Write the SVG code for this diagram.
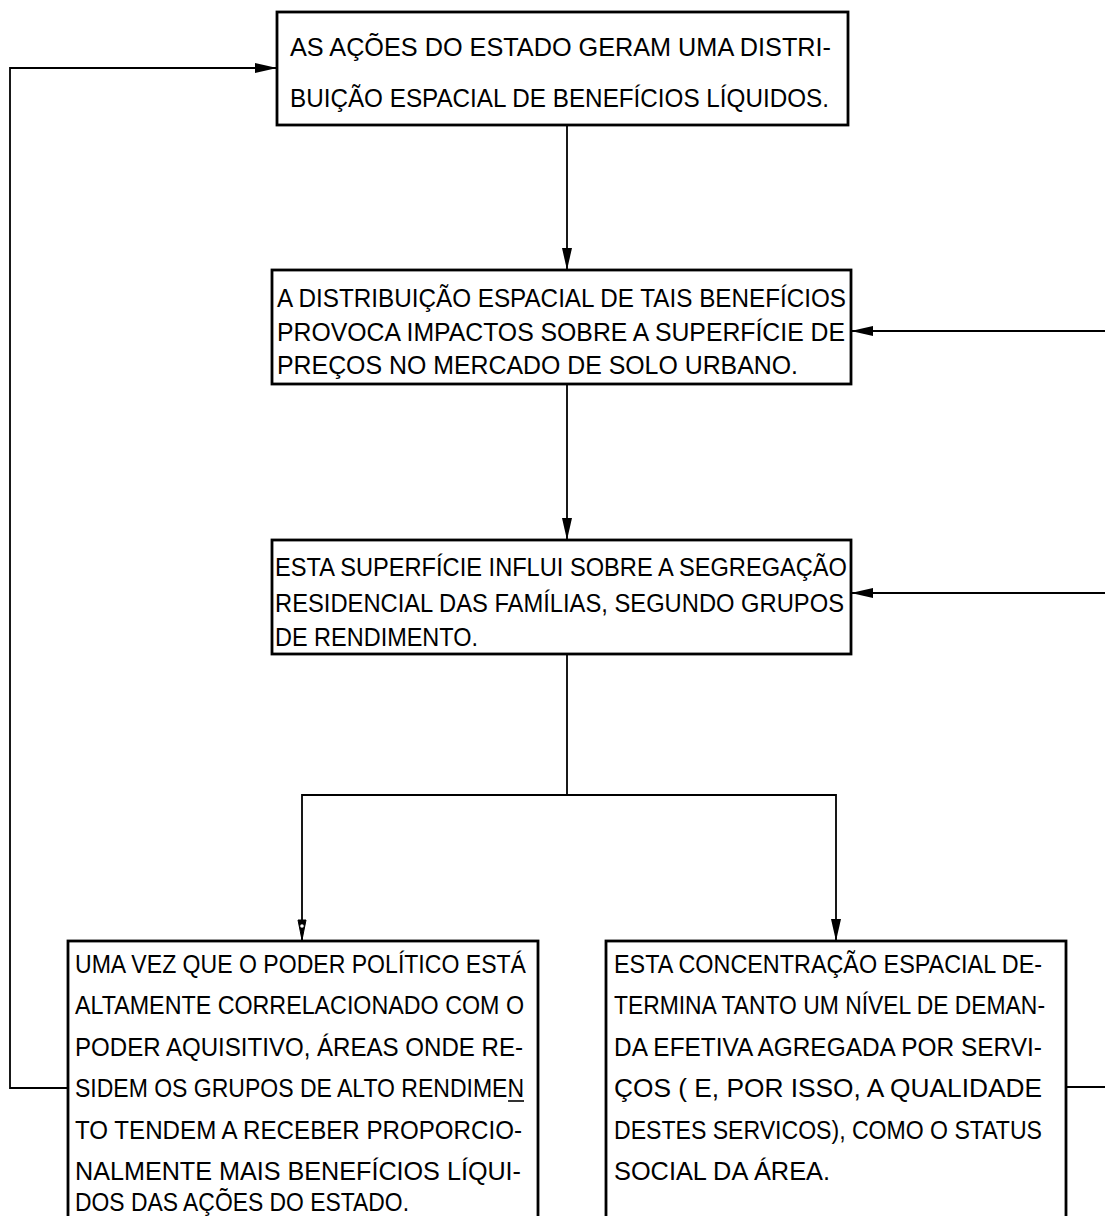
<svg xmlns="http://www.w3.org/2000/svg" width="1105" height="1216" viewBox="0 0 1105 1216">
<style>
.box{fill:#fff;stroke:#000;stroke-width:2.8}
.t{font-family:"Liberation Sans","DejaVu Sans",sans-serif;font-size:25px;fill:#000}
.c{fill:none;stroke:#000;stroke-width:1.8}
</style>
<defs>
<marker id="ah" viewBox="0 0 22 10" refX="22" refY="5" markerWidth="22" markerHeight="10" markerUnits="userSpaceOnUse" orient="auto">
<path d="M0,0 L22,5 L0,10 Z" fill="#000"/>
</marker>
<marker id="ah2" viewBox="0 0 22 10" refX="22" refY="5" markerWidth="22" markerHeight="10" markerUnits="userSpaceOnUse" orient="auto">
<path d="M1,1 L21,5 L1,9 Z" fill="#000" stroke="#000" stroke-width="1"/>
<circle cx="7" cy="5" r="1.8" fill="#fff"/>
</marker>
</defs>
<rect width="1105" height="1216" fill="#fff"/>
<g id="connectors">
<path class="c" d="M68,1088 H10 V68 H277" marker-end="url(#ah)"/>
<path class="c" d="M567,125 V270" marker-end="url(#ah)"/>
<path class="c" d="M1105,331 H851" marker-end="url(#ah)"/>
<path class="c" d="M567,384 V540" marker-end="url(#ah)"/>
<path class="c" d="M1105,593 H851" marker-end="url(#ah)"/>
<path class="c" d="M567,654 V795"/>
<path class="c" d="M567,795 H302 V941" marker-end="url(#ah2)"/>
<path class="c" d="M567,795 H836 V941" marker-end="url(#ah)"/>
<path class="c" d="M1066,1087 H1105"/>
</g>
<g id="n1">
<rect class="box" x="277" y="12" width="571" height="113" stroke-width="3.4"/>
<text class="t" x="290" y="56" textLength="541" lengthAdjust="spacingAndGlyphs">AS AÇÕES DO ESTADO GERAM UMA DISTRI-</text>
<text class="t" x="290" y="107" textLength="539" lengthAdjust="spacingAndGlyphs">BUIÇÃO ESPACIAL DE BENEFÍCIOS LÍQUIDOS.</text>
</g>
<g id="n2">
<rect class="box" x="272" y="270" width="579" height="114"/>
<text class="t" x="277" y="307" textLength="569" lengthAdjust="spacingAndGlyphs">A DISTRIBUIÇÃO ESPACIAL DE TAIS BENEFÍCIOS</text>
<text class="t" x="277" y="341" textLength="568" lengthAdjust="spacingAndGlyphs">PROVOCA IMPACTOS  SOBRE A SUPERFÍCIE DE</text>
<text class="t" x="277" y="374" textLength="521" lengthAdjust="spacingAndGlyphs">PREÇOS NO MERCADO  DE SOLO  URBANO.</text>
</g>
<g id="n3">
<rect class="box" x="272" y="540" width="579" height="114"/>
<text class="t" x="275" y="576" textLength="572" lengthAdjust="spacingAndGlyphs">ESTA SUPERFÍCIE INFLUI SOBRE A SEGREGAÇÃO</text>
<text class="t" x="275" y="612" textLength="569" lengthAdjust="spacingAndGlyphs">RESIDENCIAL DAS FAMÍLIAS, SEGUNDO  GRUPOS</text>
<text class="t" x="275" y="646" textLength="203" lengthAdjust="spacingAndGlyphs">DE  RENDIMENTO.</text>
</g>
<g id="n4">
<rect class="box" x="68" y="941" width="470" height="300"/>
<text class="t" x="75" y="973" textLength="451" lengthAdjust="spacingAndGlyphs">UMA VEZ QUE O PODER POLÍTICO ESTÁ</text>
<text class="t" x="75" y="1014" textLength="449" lengthAdjust="spacingAndGlyphs">ALTAMENTE CORRELACIONADO COM O</text>
<text class="t" x="75" y="1056" textLength="448" lengthAdjust="spacingAndGlyphs">PODER AQUISITIVO, ÁREAS ONDE  RE-</text>
<text class="t" x="75" y="1097" textLength="449" lengthAdjust="spacingAndGlyphs">SIDEM OS  GRUPOS  DE ALTO RENDIMEN</text>
<line x1="508" y1="1101" x2="524" y2="1101" stroke="#000" stroke-width="1.6"/>
<text class="t" x="75" y="1139" textLength="447" lengthAdjust="spacingAndGlyphs">TO TENDEM  A RECEBER  PROPORCIO-</text>
<text class="t" x="75" y="1180" textLength="446" lengthAdjust="spacingAndGlyphs">NALMENTE  MAIS  BENEFÍCIOS  LÍQUI-</text>
<text class="t" x="75" y="1211" textLength="334" lengthAdjust="spacingAndGlyphs">DOS  DAS AÇÕES DO ESTADO.</text>
</g>
<g id="n5">
<rect class="box" x="606" y="941" width="460" height="300"/>
<text class="t" x="614" y="973" textLength="428" lengthAdjust="spacingAndGlyphs">ESTA CONCENTRAÇÃO  ESPACIAL  DE-</text>
<text class="t" x="614" y="1014" textLength="431" lengthAdjust="spacingAndGlyphs">TERMINA TANTO UM NÍVEL DE DEMAN-</text>
<text class="t" x="614" y="1056" textLength="428" lengthAdjust="spacingAndGlyphs">DA EFETIVA  AGREGADA  POR  SERVI-</text>
<text class="t" x="614" y="1097" textLength="428" lengthAdjust="spacingAndGlyphs">ÇOS  ( E,  POR  ISSO, A  QUALIDADE</text>
<text class="t" x="614" y="1139" textLength="428" lengthAdjust="spacingAndGlyphs">DESTES SERVICOS), COMO  O  STATUS</text>
<text class="t" x="614" y="1180" textLength="216" lengthAdjust="spacingAndGlyphs">SOCIAL  DA  ÁREA.</text>
</g>
</svg>
